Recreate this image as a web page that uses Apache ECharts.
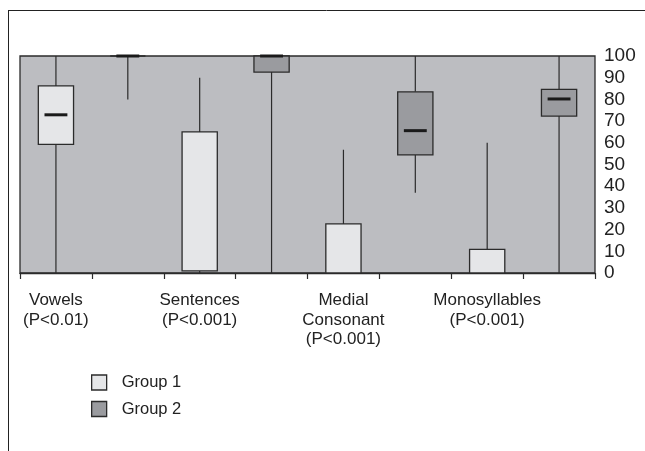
<!DOCTYPE html>
<html>
<head>
<meta charset="utf-8">
<script src="https://cdn.jsdelivr.net/npm/echarts@6/dist/echarts.min.js"></script>
<style>
html,body{margin:0;padding:0;background:#fff;}
#chart{width:645px;height:451px;}
</style>
</head>
<body>
<div id="chart"></div>
<script>
// Categories (8 slots: Group 1 and Group 2 for each test)
const categories = ['Vowels\n(P<0.01)', '', 'Sentences\n(P<0.001)', '', 'Medial\nConsonant\n(P<0.001)', '', 'Monosyllables\n(P<0.001)', ''];
// Slot index of each box
const group1Slots = [0, 2, 4, 6];
const group2Slots = [1, 3, 5, 7];
// Box stats: [min, Q1, median, Q3, max]  (median null = not visible)
const group1Stats = [
  [0, 59.3, 72.9, 86.2, 100],
  [0, 1, null, 65, 90],
  [0, 0, null, 22.6, 56.8],
  [0, 0, null, 10.9, 60]
];
const group2Stats = [
  [80, 100, 100, 100, 100],
  [0, 92.6, 100, 100, 100],
  [37, 54.4, 65.6, 83.5, 100],
  [0, 72.3, 80.2, 84.6, 100]
];
const yTicks = [0, 100, 10]; // min, max, interval
const seriesNames = ['Group 1', 'Group 2'];
const fillColors = ['#e5e6e8', '#9a9b9f'];

const lineColor = '#2b2b2b';

function buildData(slots, stats) {
  return slots.map((s, i) => [s].concat(stats[i].map(v => v === null ? '-' : v)));
}

function renderBox(fill) {
  return function (params, api) {
    const cat = api.value(0);
    const vmin = api.value(1), q1 = api.value(2), med = api.value(3), q3 = api.value(4), vmax = api.value(5);
    const bw = api.size([1, 0])[0] * 0.49;
    const pMin = api.coord([cat, vmin]);
    const pQ1 = api.coord([cat, q1]);
    const pQ3 = api.coord([cat, q3]);
    const pMax = api.coord([cat, vmax]);
    const x = pQ1[0];
    const children = [
      { type: 'line', shape: { x1: x, y1: pMax[1], x2: x, y2: pQ3[1] }, style: { stroke: lineColor, lineWidth: 1.2 } },
      { type: 'line', shape: { x1: x, y1: pQ1[1], x2: x, y2: pMin[1] }, style: { stroke: lineColor, lineWidth: 1.2 } },
      { type: 'rect', shape: { x: x - bw / 2, y: pQ3[1], width: bw, height: pQ1[1] - pQ3[1] }, style: { fill: fill, stroke: lineColor, lineWidth: 1.3 } }
    ];
    if (!isNaN(med)) {
      const pMed = api.coord([cat, med]);
      const mw = bw * 0.65;
      children.push({ type: 'line', shape: { x1: x - mw / 2, y1: pMed[1], x2: x + mw / 2, y2: pMed[1] }, style: { stroke: '#1a1a1a', lineWidth: 3 } });
    }
    return { type: 'group', children: children };
  };
}

const chart = echarts.init(document.getElementById('chart'), null, { renderer: 'canvas' });
const font = 'Liberation Sans, Arial, sans-serif';
chart.setOption({
  animation: false,
  backgroundColor: '#ffffff',
  textStyle: { fontFamily: font },
  graphic: [
    { type: 'line', shape: { x1: 8, y1: 10.5, x2: 645, y2: 10.5 }, style: { stroke: '#222', lineWidth: 1 } },
    { type: 'line', shape: { x1: 8.5, y1: 10, x2: 8.5, y2: 451 }, style: { stroke: '#222', lineWidth: 1 } }
  ],
  grid: {
    left: 20, top: 56, width: 575, height: 217,
    show: true, backgroundColor: '#bcbdc1', borderColor: '#2b2b2b', borderWidth: 1.3
  },
  legend: {
    orient: 'vertical', left: 91, top: 374, itemWidth: 15, itemHeight: 15, itemGap: 9.5, padding: 0,
    textStyle: { fontSize: 16.5, color: '#222', fontFamily: font, padding: [0, 0, 0, 10] },
    data: seriesNames.map((n, i) => ({ name: n, icon: 'rect', itemStyle: { color: fillColors[i], borderColor: lineColor, borderWidth: 1.3 } }))
  },
  xAxis: {
    type: 'category', data: categories, boundaryGap: true,
    axisLine: { show: true, lineStyle: { color: '#2b2b2b', width: 1.3 } },
    axisTick: { show: true, length: 6, lineStyle: { color: '#2b2b2b', width: 1.2 } },
    axisLabel: { interval: 0, fontSize: 17, lineHeight: 19.5, color: '#222', margin: 18, fontFamily: font },
    splitLine: { show: false }
  },
  yAxis: {
    type: 'value', position: 'right', min: yTicks[0], max: yTicks[1], interval: yTicks[2],
    axisLine: { show: false }, axisTick: { show: false }, splitLine: { show: false },
    axisLabel: { fontSize: 19, color: '#222', margin: 9, fontFamily: font }
  },
  series: [
    { name: seriesNames[0], type: 'custom', renderItem: renderBox(fillColors[0]), itemStyle: { color: fillColors[0] }, encode: { x: 0, y: [1, 2, 3, 4, 5] }, data: buildData(group1Slots, group1Stats), clip: false },
    { name: seriesNames[1], type: 'custom', renderItem: renderBox(fillColors[1]), itemStyle: { color: fillColors[1] }, encode: { x: 0, y: [1, 2, 3, 4, 5] }, data: buildData(group2Slots, group2Stats), clip: false }
  ]
});
</script>
</body>
</html>
